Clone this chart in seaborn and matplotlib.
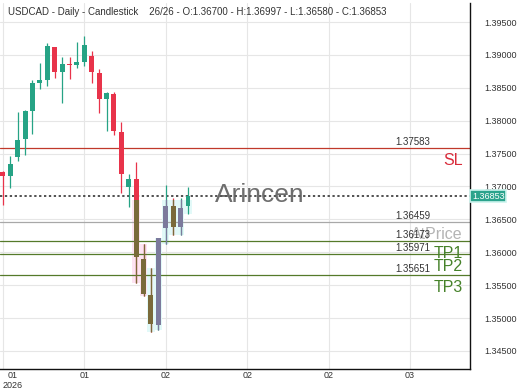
import matplotlib
matplotlib.use("Agg")
import matplotlib.pyplot as plt
import matplotlib.transforms as mtransforms
from matplotlib.patches import Rectangle
import seaborn as sns
import numpy as np
import pandas as pd

# ---------------- data ----------------
opens  = [1.37220, 1.37164, 1.37453, 1.37722, 1.38152, 1.38578, 1.38619, 1.39116,
          1.38745, 1.38866, 1.38854, 1.38888, 1.38988, 1.38729, 1.38325, 1.38401,
          1.37833, 1.36992, 1.37114, 1.35894, 1.35351, 1.34895, 1.36365, 1.36708,
          1.36389, 1.36700]
highs  = [1.37236, 1.37464, 1.38137, 1.38163, 1.38619, 1.38872, 1.39176, 1.39125,
          1.38964, 1.38964, 1.39191, 1.39287, 1.39064, 1.38781, 1.38441, 1.38441,
          1.37985, 1.37190, 1.37368, 1.36126, 1.35766, 1.36213, 1.37023, 1.36821,
          1.36821, 1.36997]
lows   = [1.36719, 1.36973, 1.37392, 1.37479, 1.37798, 1.38482, 1.38527, 1.38644,
          1.38274, 1.38629, 1.38801, 1.38831, 1.38568, 1.38112, 1.37843, 1.37783,
          1.36897, 1.36693, 1.35529, 1.35336, 1.34793, 1.34819, 1.36126, 1.36263,
          1.36263, 1.36580]
closes = [1.37167, 1.37337, 1.37707, 1.38152, 1.38568, 1.38619, 1.39140, 1.38745,
          1.38862, 1.38851, 1.38888, 1.39150, 1.38736, 1.38325, 1.38426, 1.37843,
          1.37190, 1.37114, 1.35924, 1.35366, 1.34906, 1.36213, 1.36708, 1.36389,
          1.36669, 1.36853]

level_values = [1.37583, 1.36459, 1.36173, 1.35971, 1.35651]
level_names  = ["SL", "AtPrice", "TP1", "TP2", "TP3"]
last_price   = 1.36853
x_tick_labels = ["01\n2026", "01", "02", "02", "02", "03"]
y_tick_values = [1.345, 1.350, 1.355, 1.360, 1.365, 1.370, 1.375, 1.380, 1.385, 1.390, 1.395]
title_text = "USDCAD - Daily - Candlestick    26/26 - O:1.36700 - H:1.36997 - L:1.36580 - C:1.36853"
watermark = "Arincen"

# ---------------- layout / style ----------------
x_tick_pos = [0, 11, 22, 33, 44, 55]
tint_first, tint_last, tint_top = 18, 24, 1.3680
UP, DOWN = "#26a385", "#e8334a"
UP_T, DOWN_T = "#7c7a9c", "#7a6a3a"
TEXT = "#333333"

sns.set_theme(style="white")
plt.rcParams["font.family"] = ["Liberation Sans", "DejaVu Sans"]

df = pd.DataFrame({"o": opens, "h": highs, "l": lows, "c": closes})
df["idx"] = np.arange(len(df))
df["bull"] = df["c"] >= df["o"]
df["bottom"] = df[["o", "c"]].min(axis=1)
df["height"] = (df["c"] - df["o"]).abs().clip(lower=0.00016)

fig = plt.figure(figsize=(5.2, 3.9), dpi=100)
ax = fig.add_axes([0, 21 / 390, 470 / 520, 366 / 390])
ax.set_xlim(-0.39, 63.1)
ax.set_ylim(1.34226, 1.39789)

# grid
ax.set_xticks(x_tick_pos)
ax.set_yticks(y_tick_values)
ax.grid(True, color="#e6e6e6", lw=0.8)
ax.set_axisbelow(True)

# glows behind tinted candles
glow = df[(df.idx >= tint_first) & (df.idx <= tint_last + 1)]
glow_cols = ["#fde4f2" if i < 20 else "#e2f9f8" for i in glow.idx]
glow_top = glow["h"].clip(upper=tint_top)
ax.bar(glow.idx, glow_top - glow["l"], bottom=glow["l"], width=1.0,
       color=glow_cols, zorder=1, lw=0)

# candles
cols = [UP if b else DOWN for b in df.bull]
ax.vlines(df.idx, df.l, df.h, colors=cols, lw=0.9, zorder=3)
ax.bar(df.idx, df.height, bottom=df.bottom, width=0.66, color=cols, lw=0, zorder=3)

# tinted redraw of candles inside the highlighted zone
clip = Rectangle((tint_first - 0.5, 1.30), tint_last - tint_first + 1, tint_top - 1.30,
                 transform=ax.transData, visible=False)
ax.add_patch(clip)
sub = df[(df.idx >= tint_first) & (df.idx <= tint_last)]
tcols = [UP_T if b else DOWN_T for b in sub.bull]
lc = ax.vlines(sub.idx, sub.l, sub.h, colors=tcols, lw=0.9, zorder=4)
lc.set_clip_path(clip)
bars = ax.bar(sub.idx, sub.height, bottom=sub.bottom, width=0.66, color=tcols, lw=0, zorder=4)
for p in bars:
    p.set_clip_path(clip)

# level lines and labels
lvl_line = ["#c0392b", "#a8a8a8", "#557a2a", "#557a2a", "#557a2a"]
lvl_text = ["#d92b3a", "#b4b4b4", "#46822a", "#46822a", "#46822a"]
blend = mtransforms.blended_transform_factory(ax.transAxes, ax.transData)
for v, name, lcol, tcol in zip(level_values, level_names, lvl_line, lvl_text):
    ax.axhline(v, color=lcol, lw=0.9, zorder=2)
    ax.annotate(f"{v:.5f}", xy=(1, v), xycoords=blend, xytext=(-28.8, 4.3),
                textcoords="offset points", ha="right", va="center",
                fontsize=7, color=TEXT, zorder=5)
    ax.annotate(name, xy=(1, v), xycoords=blend, xytext=(-5, -8.8),
                textcoords="offset points", ha="right", va="center",
                fontsize=11.5, color=tcol, zorder=5)

# last price
ax.axhline(last_price, color="#222222", lw=1.1, ls=(0, (1.5, 1.7)), zorder=2)
ax.text(1.004, last_price, f"{last_price:.5f}", transform=blend, ha="left", va="center",
        fontsize=6.5, color="white", zorder=6, clip_on=False,
        bbox=dict(boxstyle="square,pad=0.2", fc="#2ba38c", ec="#cdf4ee", lw=1.2))

# watermark
ax.text(0.553, 0.457, watermark, transform=ax.transAxes, ha="center", va="baseline",
        fontsize=19, color="#555555", alpha=0.85, zorder=5)

# title
ax.text(0.017, 0.975, title_text, transform=ax.transAxes, ha="left", va="center",
        fontsize=7, color=TEXT, zorder=6)

# axes styling
ax.yaxis.tick_right()
ax.set_yticklabels([f"{v:.5f}" for v in y_tick_values])
ax.set_xticklabels(x_tick_labels)
ax.tick_params(axis="y", length=0, pad=10.5, labelsize=6.5, labelcolor=TEXT)
ax.tick_params(axis="x", length=0, pad=1.5, labelsize=6.5, labelcolor=TEXT)
xl = ax.get_xticklabels()
xl[0].set_ha("left")
xl[0].set_multialignment("center")
for s in ["left", "top"]:
    ax.spines[s].set_visible(False)
for s in ["right", "bottom"]:
    ax.spines[s].set_color("#111111")
    ax.spines[s].set_linewidth(1.0)

fig.savefig("out.png", dpi=100)
